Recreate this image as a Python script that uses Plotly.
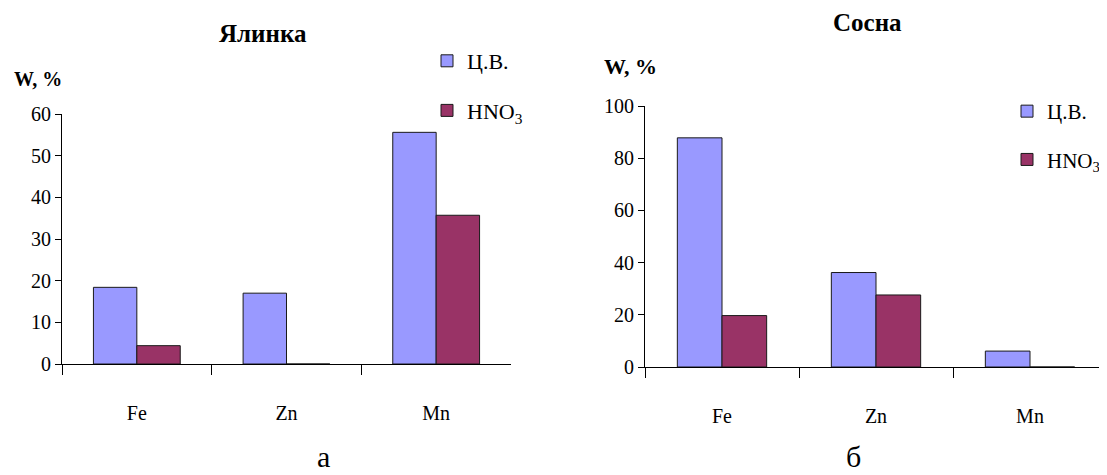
import plotly.graph_objects as go

categories = ["Fe", "Zn", "Mn"]
yalynka_cv = [18.4, 17.0, 55.6]
yalynka_hno3 = [4.4, 0.0, 35.7]
sosna_cv = [87.8, 36.2, 6.1]
sosna_hno3 = [19.7, 27.6, 0.0]
series_names = ["Ц.В.", "HNO<sub>3</sub>"]
colors = ["#9999FF", "#993366"]

FONT = "Liberation Serif, Times New Roman, serif"
W, H = 1107, 475          # browser window
OX, OY = 8, 8             # default page body margin
FW, FH = W - OX, H - OY   # figure size that fits the window


def fx(px):
    return (px - OX) / FW


def fy(py):
    return 1 - (py - OY) / FH


fig = go.Figure()


def bar(y, i, xa, ya, leg, grp):
    return go.Bar(
        x=categories, y=y, name=series_names[i],
        marker=dict(color=colors[i], line=dict(color="#1a1a1a", width=1)),
        xaxis=xa, yaxis=ya, legend=leg, legendgroup=grp,
        hoverinfo="x+y",
    )


fig.add_trace(bar(yalynka_cv, 0, "x", "y", "legend", "a"))
fig.add_trace(bar(yalynka_hno3, 1, "x", "y", "legend", "b"))
fig.add_trace(bar(sosna_cv, 0, "x2", "y2", "legend2", "c"))
fig.add_trace(bar(sosna_hno3, 1, "x2", "y2", "legend2", "d"))

xcommon = dict(
    type="category", showline=True, linecolor="black", linewidth=1,
    ticks="outside", tickson="boundaries", ticklen=10, tickcolor="black",
    showgrid=False, zeroline=False, ticklabelstandoff=31, automargin=False,
    tickfont=dict(family=FONT, size=20, color="black"), fixedrange=True,
)
ycommon = dict(
    showline=True, linecolor="black", linewidth=1, ticks="outside",
    ticklen=6, tickcolor="black", showgrid=False, zeroline=False, automargin=False,
    tickfont=dict(family=FONT, size=20, color="black"), fixedrange=True,
)

legcommon = dict(
    xanchor="left", yanchor="top", bgcolor="rgba(0,0,0,0)",
    tracegroupgap=18, itemwidth=30,
)


def ann(text, px, py, size, xanchor="center"):
    return dict(text=text, x=fx(px), y=fy(py), xref="paper", yref="paper",
                xanchor=xanchor, yanchor="middle", showarrow=False,
                font=dict(family=FONT, size=size, color="black"))


fig.update_layout(
    width=FW, height=FH,
    margin=dict(l=0, r=0, t=0, b=0, autoexpand=False),
    paper_bgcolor="white", plot_bgcolor="white",
    barmode="group", bargap=0.42, bargroupgap=0,
    font=dict(family=FONT, color="black"),
    xaxis=dict(domain=[fx(62), fx(511)], anchor="y", **xcommon),
    yaxis=dict(domain=[fy(364), fy(114)], anchor="x", range=[0, 60], dtick=10, **ycommon),
    xaxis2=dict(domain=[fx(645), 1.0], anchor="y2", **xcommon),
    yaxis2=dict(domain=[fy(367), fy(106)], anchor="x2", range=[0, 100], dtick=20, **ycommon),
    legend=dict(x=fx(427), y=fy(40), font=dict(family=FONT, size=22, color="black"), **legcommon),
    legend2=dict(x=fx(1007), y=fy(91), font=dict(family=FONT, size=21, color="black"), **legcommon),
    annotations=[
        ann("<b>Ялинка</b>", 263, 34, 25),
        ann("<b>Сосна</b>", 867, 22, 25),
        ann("<b>W, %</b>", 12, 79, 20, xanchor="left"),
        ann("<b>W, %</b>", 602, 66, 22, xanchor="left"),
        ann("а", 323, 456, 30),
        ann("б", 853, 456, 30),
    ],
)

fig.write_html("out.html")
